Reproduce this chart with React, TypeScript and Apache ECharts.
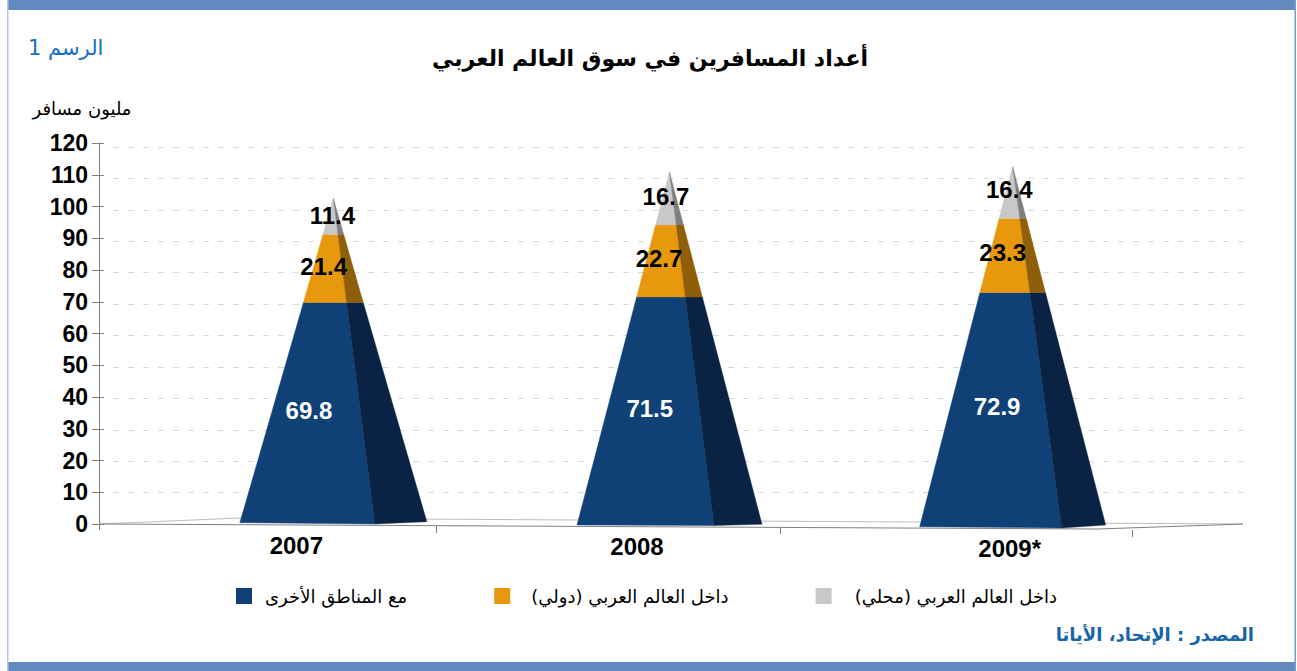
import React, { useEffect, useRef } from "react";
import * as echarts from "echarts";

const years = ["2007", "2008", "2009*"];
const seriesNames = ["مع المناطق الأخرى", "داخل العالم العربي (دولي)", "داخل العالم العربي (محلي)"];
const otherRegions = [69.8, 71.5, 72.9];
const arabInternational = [21.4, 22.7, 23.3];
const arabDomestic = [11.4, 16.7, 16.4];
const yRange = [0, 120];

const frontColors = ["#0F4177", "#E8980D", "#C8C8C8"];
const sideColors = ["#0A2344", "#8F5E08", "#7F7F7F"];
const labelColors = ["#FFFFFF", "#000000", "#000000"];
const legendPadding = [[0, 0, 0, 8], [0, 0, 0, 16], [0, 0, 0, 18]];

// Perspective of the 3D pyramids, relative to each category centre and to the value 0 line.
const apexShift = [62, 53.5, 52];
const baseLeft = [-93.5, -92.5, -93];
const baseRidge = [41.5, 44.5, 49];
const baseRight = [93.5, 92.5, 93];
const baseLeftDy = [-1.3, 1, 2.7];
const baseRidgeDy = [0, 1.5, 4];
const baseRightDy = [-2.3, 0.3, 1];
const labelDx = [[-1, -2, 1], [3, -2, -1], [6, -2, -1]];
const labelDy = [[-3, -2, -1], [-2, -2, -2], [-2, -3, -3]];

const ARABIC = '"DejaVu Sans", sans-serif';
const LATIN = '"Liberation Sans", Arial, sans-serif';

function makeSeries(index: number, values: number[], stacks: number[][]) {
  const rows = values.map((v, i) => {
    const lower = stacks.reduce((sum, s) => sum + s[i], 0);
    const total = otherRegions[i] + arabInternational[i] + arabDomestic[i];
    return [i, lower, lower + v, total, v];
  });
  return {
    type: "custom",
    name: seriesNames[index],
    coordinateSystem: "cartesian2d",
    xAxisIndex: 0,
    yAxisIndex: 0,
    clip: false,
    silent: true,
    z: 5 + index,
    itemStyle: { color: frontColors[index] },
    encode: { x: 0, y: [1, 2] },
    data: rows,
    renderItem(_params: any, api: any) {
      const i = api.value(0);
      const lower = api.value(1);
      const upper = api.value(2);
      const total = api.value(3);
      const val = api.value(4);
      const zero = api.coord([i, 0]);
      const apexX = zero[0] + apexShift[i];
      const edge = (dx: number, dy: number, v: number) => {
        const t = v / total;
        const bx = apexX + dx;
        const y = v === 0 ? zero[1] + dy : api.coord([i, v])[1];
        return [bx + (apexX - bx) * t, y];
      };
      const L = (v: number) => edge(baseLeft[i], baseLeftDy[i], v);
      const M = (v: number) => edge(baseRidge[i], baseRidgeDy[i], v);
      const R = (v: number) => edge(baseRight[i], baseRightDy[i], v);
      const mid = (lower + upper) / 2;
      const lm = L(mid);
      const mm = M(mid);
      return {
        type: "group",
        children: [
          {
            type: "polygon",
            shape: { points: [L(lower), M(lower), M(upper), L(upper)] },
            style: { fill: frontColors[index], stroke: frontColors[index], lineWidth: 0.4 },
          },
          {
            type: "polygon",
            shape: { points: [M(lower), R(lower), R(upper), M(upper)] },
            style: { fill: sideColors[index], stroke: sideColors[index], lineWidth: 0.4 },
          },
          {
            type: "text",
            z2: 20,
            style: {
              text: val.toFixed(1),
              x: lm[0] + (mm[0] - lm[0]) * 0.43 + labelDx[i][index],
              y: api.coord([i, mid])[1] + labelDy[i][index],
              fill: labelColors[index],
              fontFamily: LATIN,
              fontWeight: "bold",
              fontSize: 24,
              align: "center",
              verticalAlign: "middle",
            },
          },
        ],
      };
    },
  };
}

export default function App() {
  const ref = useRef<HTMLDivElement>(null);
  useEffect(() => {
    const chart = echarts.init(ref.current!, undefined, { renderer: "svg" });
    const tick = (x: number, y1: number, y2: number) => ({
      type: "line",
      z: 1,
      shape: { x1: x, y1, x2: x, y2 },
      style: { stroke: "#808080", lineWidth: 1 },
    });
    chart.setOption({
      animation: false,
      backgroundColor: "#FFFFFF",
      title: [
        {
          text: "أعداد المسافرين في سوق العالم العربي",
          left: 650,
          top: 47,
          padding: 0,
          textAlign: "center",
          textStyle: { fontFamily: ARABIC, fontSize: 22, fontWeight: "bold", color: "#000000" },
        },
        {
          text: "الرسم 1",
          left: 28,
          top: 37,
          padding: 0,
          textStyle: { fontFamily: ARABIC, fontSize: 21, fontWeight: "normal", color: "#1270BE" },
        },
        {
          text: "المصدر : الإتحاد، الأياتا",
          left: 1254,
          top: 625,
          padding: 0,
          textAlign: "right",
          textStyle: { fontFamily: ARABIC, fontSize: 18, fontWeight: "bold", color: "#1565A8" },
        },
      ],
      legend: {
        left: 231,
        top: 582,
        icon: "rect",
        itemWidth: 16,
        itemHeight: 16,
        itemGap: 87,
        data: seriesNames.map((name, i) => ({ name, textStyle: { padding: legendPadding[i] } })),
        formatter: (name: string) => name + "\u200F",
        textStyle: { fontFamily: ARABIC, fontSize: 18, color: "#000000" },
      },
      graphic: [
        { type: "rect", z: 0, shape: { x: 8, y: 0, width: 1288, height: 10 }, style: { fill: "#628ABF" } },
        { type: "rect", z: 0, shape: { x: 8, y: 662, width: 1288, height: 9 }, style: { fill: "#628ABF" } },
        { type: "rect", z: 0, shape: { x: 7, y: 0, width: 1.5, height: 671 }, style: { fill: "#B4C6E2" } },
        { type: "rect", z: 0, shape: { x: 1294.5, y: 0, width: 1.5, height: 671 }, style: { fill: "#7D9CCB" } },
        { type: "polyline", z: 1, shape: { points: [[99, 524], [240, 518], [1243, 524]] }, style: { stroke: "#BDBDBD", fill: "none", lineWidth: 1 } },
        { type: "polyline", z: 1, shape: { points: [[99, 524], [1098, 529], [1243, 524]] }, style: { stroke: "#808080", fill: "none", lineWidth: 1 } },
        tick(99.5, 524, 530),
        tick(436.5, 526, 533),
        tick(780.5, 527, 534),
        tick(1132.5, 530, 537),
      ],
      grid: [
        { left: 99, right: 164, top: 143, bottom: 147, containLabel: false },
        { left: 113, right: 52, top: 147, bottom: 147, containLabel: false },
      ],
      xAxis: [
        {
          type: "category",
          gridIndex: 0,
          data: years.map((y, i) => ({
            value: y,
            textStyle: { padding: [[0, 1, 3][i], 0, 0, [50, 42, 98][i]] },
          })),
          offset: 2,
          axisLine: { show: false },
          axisTick: { show: false },
          axisLabel: {
            margin: 7,
            interval: 0,
            fontFamily: LATIN,
            fontWeight: "bold",
            fontSize: 24,
            color: "#000000",
          },
        },
        { type: "value", gridIndex: 1, min: 0, max: 1, show: false },
      ],
      yAxis: [
        {
          type: "value",
          gridIndex: 0,
          min: yRange[0],
          max: yRange[1],
          interval: 10,
          name: "مليون مسافر",
          nameLocation: "end",
          nameGap: 26,
          nameTextStyle: { fontFamily: ARABIC, fontSize: 18, color: "#000000", align: "center", padding: [0, 34, 0, 0] },
          axisLine: { show: true, lineStyle: { color: "#808080" } },
          axisTick: { show: true, length: 7, lineStyle: { color: "#808080" } },
          axisLabel: { margin: 11, fontFamily: LATIN, fontWeight: "bold", fontSize: 23, color: "#000000" },
          splitLine: { show: false },
        },
        {
          type: "value",
          gridIndex: 0,
          min: yRange[0],
          max: yRange[1],
          interval: 10,
          position: "left",
          axisLine: { show: false },
          axisTick: { show: true, inside: true, length: 5, lineStyle: { color: "#808080" } },
          axisLabel: { show: false },
          splitLine: { show: false },
        },
        {
          type: "value",
          gridIndex: 1,
          min: yRange[0],
          max: yRange[1],
          interval: 10,
          axisLine: { show: false },
          axisTick: { show: false },
          axisLabel: { show: false },
          splitLine: { show: true, showMinLine: false, lineStyle: { color: "#D9D9D9", type: [6, 9], width: 1 } },
        },
      ],
      series: [
        makeSeries(0, otherRegions, []),
        makeSeries(1, arabInternational, [otherRegions]),
        makeSeries(2, arabDomestic, [otherRegions, arabInternational]),
      ],
    });
    return () => chart.dispose();
  }, []);
  return <div ref={ref} style={{ position: "absolute", left: 0, top: 0, width: 1297, height: 671 }} />;
}
